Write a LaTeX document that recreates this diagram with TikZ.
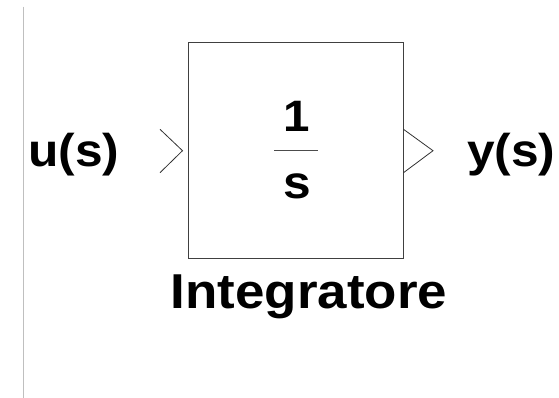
\documentclass[tikz,border=0pt]{standalone}
\usepackage{fontspec}
\setmainfont{Liberation Sans}
\newfontfamily\labfont[FakeStretch=1.08]{Liberation Sans Bold}
\begin{document}
\begin{tikzpicture}[x=1pt,y=-1pt,
  lbl/.style={font=\labfont\fontsize{46}{52}\selectfont, inner sep=0pt, anchor=base},
  blk/.style={draw=black!75, line width=1pt},
  chev/.style={draw=black!80, line width=0.8pt}]
\useasboundingbox (0,0) rectangle (559,398);
\draw[black!25, line width=1pt] (23.5,6.7) -- (23.5,398);
\node[blk, minimum width=215pt, minimum height=215pt, inner sep=0pt] (box) at (296,150.5) {};
\coordinate (i1) at (160,129.3);
\coordinate (i2) at (182.5,150.7);
\coordinate (i3) at (160,172.7);
\draw[chev] (i1) -- (i2) -- (i3);
\coordinate (o1) at (403.5,129.3);
\coordinate (o2) at (433,150.7);
\coordinate (o3) at (403.5,172.7);
\draw[chev] (o1) -- (o2) -- (o3);
\node[lbl, font=\labfont\fontsize{44}{50}\selectfont] (num) at (297,131.7) {1};
\node[lbl] (den) at (297.5,198.3) {s};
\coordinate (f1) at (274,151);
\coordinate (f2) at (318.3,151);
\draw[black!70, line width=1pt] (f1) -- (f2);
\node[lbl, anchor=base west] (u) at (28,166.7) {u(s)};
\node[lbl, anchor=base west] (y) at (467,166.7) {y(s)};
\node[lbl, font=\labfont\fontsize{49}{56}\selectfont] (name) at (309,308.3) {Integratore};
\end{tikzpicture}
\end{document}
